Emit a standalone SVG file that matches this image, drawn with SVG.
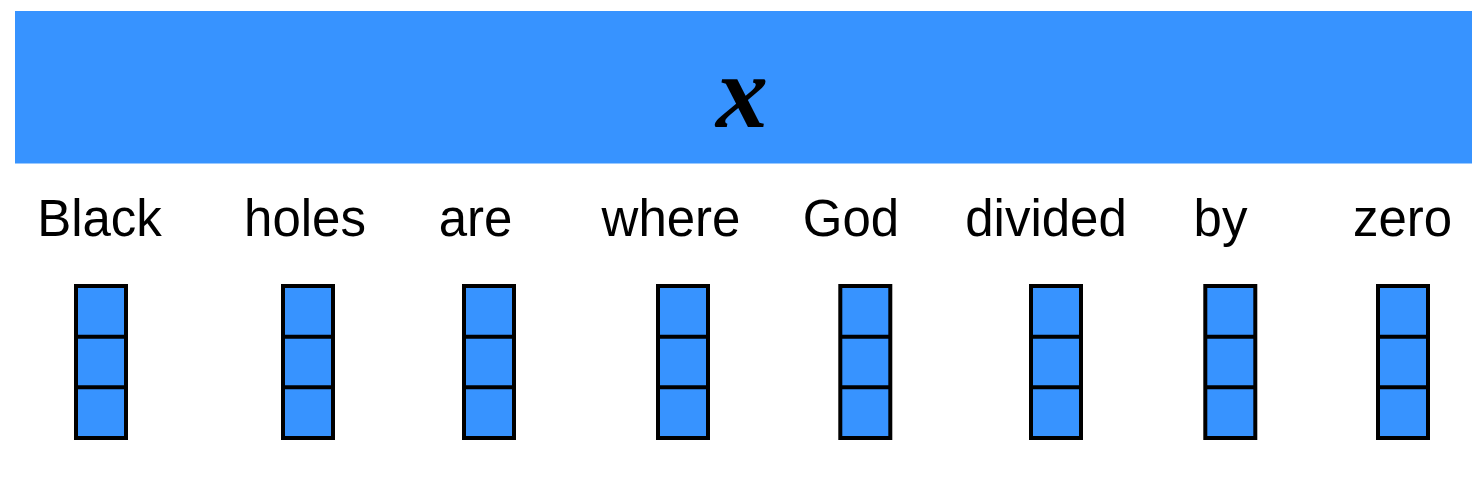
<svg xmlns="http://www.w3.org/2000/svg" width="1484" height="480" viewBox="0 0 1484 480">
<style>
.bar{fill:#3793ff}
.cell{fill:#3793ff;stroke:#000;stroke-width:4}
.div{stroke:#000;stroke-width:4}
.word{font-family:"Liberation Sans",Arial,sans-serif;font-size:51px;fill:#000;text-anchor:middle}
.var{font-family:"Liberation Serif","Times New Roman",serif;font-style:italic;font-weight:bold;font-size:104px;fill:#000;text-anchor:middle}
</style>
<defs>
<g id="vec">
<rect class="cell" x="0" y="0" width="50" height="152"/>
<line class="div" x1="0" y1="50.7" x2="50" y2="50.7"/>
<line class="div" x1="0" y1="101.3" x2="50" y2="101.3"/>
</g>
</defs>
<g id="x-bar">
<rect class="bar" x="15" y="11" width="1457" height="152.5"/>
<text class="var" x="742" y="127">x</text>
</g>
<g id="w-black"><text class="word" x="99.5" y="236">Black</text><use href="#vec" x="76" y="286"/></g>
<g id="w-holes"><text class="word" x="305" y="236">holes</text><use href="#vec" x="283" y="286"/></g>
<g id="w-are"><text class="word" x="475.5" y="236">are</text><use href="#vec" x="464" y="286"/></g>
<g id="w-where"><text class="word" x="671" y="236">where</text><use href="#vec" x="658" y="286"/></g>
<g id="w-god"><text class="word" x="851" y="236">God</text><use href="#vec" x="840.3" y="286"/></g>
<g id="w-divided"><text class="word" x="1046" y="236">divided</text><use href="#vec" x="1031" y="286"/></g>
<g id="w-by"><text class="word" x="1220.5" y="236">by</text><use href="#vec" x="1205.3" y="286"/></g>
<g id="w-zero"><text class="word" x="1402.5" y="236">zero</text><use href="#vec" x="1378" y="286"/></g>
<g id="connectors"/>
</svg>
